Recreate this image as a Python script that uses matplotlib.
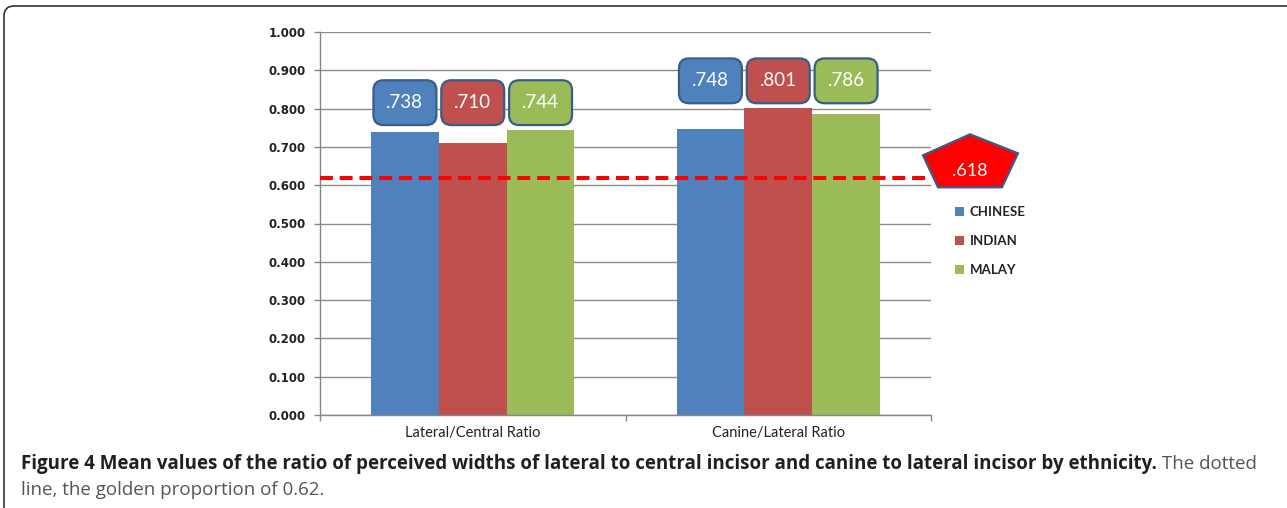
import matplotlib
matplotlib.use("Agg")
import matplotlib.pyplot as plt
from matplotlib.patches import FancyBboxPatch, Polygon
from matplotlib.transforms import IdentityTransform
import numpy as np

categories = ["Lateral/Central Ratio", "Canine/Lateral Ratio"]
groups = ["CHINESE", "INDIAN", "MALAY"]
values = {
    "CHINESE": [0.738, 0.748],
    "INDIAN": [0.710, 0.801],
    "MALAY": [0.744, 0.786],
}
golden = 0.618
colors = {"CHINESE": "#4F81BD", "INDIAN": "#C0504D", "MALAY": "#9BBB59"}
edge_blue = "#385D8A"
caption_bold = ("Figure 4 Mean values of the ratio of perceived widths of lateral "
                "to central incisor and canine to lateral incisor by ethnicity.")
caption_rest = " The dotted"
caption_line2 = "line, the golden proportion of 0.62."

plt.rcParams["font.family"] = ["Lato", "DejaVu Sans"]

W, H = 1287, 508
fig = plt.figure(figsize=(W / 100, H / 100), dpi=100)
ax = fig.add_axes([320 / W, 1 - 415 / H, 611 / W, 383 / H])

x = np.arange(len(categories))
bw = 0.222
bars = []
for i, g in enumerate(groups):
    b = ax.bar(x + (i - 1) * bw, values[g], bw, color=colors[g], label=g, zorder=2)
    bars.append(b)

ax.set_xlim(-0.5, len(categories) - 0.5)
ax.set_ylim(0, 1.0)
yt = np.arange(0, 1.01, 0.1)
ax.set_yticks(yt)
ax.set_yticklabels([f"{v:.3f}" for v in yt], family=["DejaVu Sans"],
                   fontweight="bold")
ax.set_xticks(x)
ax.set_xticklabels(categories)
ax.set_xticks(np.arange(-0.5, len(categories)), minor=True)
ax.tick_params(axis="x", which="major", length=0, pad=8, labelsize=10.5, labelcolor="#222222")
ax.tick_params(axis="x", which="minor", length=4, color="#868686", width=1)
ax.tick_params(axis="y", length=4, color="#868686", width=1, pad=6, labelsize=8.5, labelcolor="#222222")

ax.grid(axis="y", color="#8C8C8C", lw=1.0, zorder=0)
ax.set_axisbelow(True)
for s in ["top", "right"]:
    ax.spines[s].set_visible(False)
for s in ["left", "bottom"]:
    ax.spines[s].set_color("#868686")
    ax.spines[s].set_linewidth(1.0)

# golden proportion reference line
ax.axhline(golden, color="#FF0000", lw=2.9, linestyle=(0, (3.2, 1.7)), zorder=3)

# value callouts above each group
box_w, box_h = 0.206, 0.117
for j in range(len(categories)):
    top = max(values[g][j] for g in groups)
    y0 = top + 0.013
    for i, g in enumerate(groups):
        cx = x[j] + (i - 1) * bw
        p = FancyBboxPatch((cx - box_w / 2, y0), box_w, box_h,
                           boxstyle="round,pad=0,rounding_size=0.033",
                           mutation_aspect=0.79, fc=colors[g], ec=edge_blue,
                           lw=1.6, zorder=4, clip_on=False)
        ax.add_patch(p)
        ax.text(cx, y0 + box_h / 2, f"{values[g][j]:.3f}".lstrip("0"),
                ha="center", va="center", color="white", fontsize=13.5, zorder=5)

# pentagon label for the golden proportion
ly = ax.transData.transform((0, golden))[1]
ax_x1 = ax.transAxes.transform((1, 0))[0]
cx, cy = ax_x1 + 39, ly + 15
pent = [(cx, cy + 29), (cx + 48, cy + 10), (cx + 32, cy - 24),
        (cx - 32, cy - 24), (cx - 47, cy + 8)]
fig.add_artist(Polygon(pent, closed=True, fc="#FF0000", ec=edge_blue, lw=1.6,
                       transform=IdentityTransform(), zorder=6))
fig.text(cx / W, (cy - 8) / H, f"{golden:.3f}".lstrip("0"), ha="center", va="center",
         color="white", fontsize=13, zorder=7)

leg = ax.legend(handles=bars, labels=groups, loc="upper left",
                bbox_to_anchor=(955 / W, 1 - 206 / H), bbox_transform=fig.transFigure,
                frameon=False, fontsize=9.5, handlelength=0.7, handleheight=0.7,
                handletextpad=0.4, labelspacing=1.3, borderpad=0, borderaxespad=0)
for t in leg.get_texts():
    t.set_fontweight("bold")
    t.set_color("#222222")

# outer frame
fig.add_artist(FancyBboxPatch((4, -40), 1310, H - 6 + 40,
                              boxstyle="round,pad=0,rounding_size=10",
                              fc="none", ec="#333333", lw=1.2,
                              transform=IdentityTransform(), zorder=10))

# caption
cap_font = ["Open Sans", "DejaVu Sans"]
t1 = fig.text(21 / W, 39 / H, caption_bold, fontsize=12, fontweight="bold",
              family=cap_font, color="#231F20", va="baseline")
fig.canvas.draw()
r = fig.canvas.get_renderer()
w = t1.get_window_extent(r).width
fs = 12 * 1136 / w
t1.set_fontsize(fs)
fig.canvas.draw()
bb = t1.get_window_extent(r)
fig.text(bb.x1 / W, 39 / H, caption_rest, fontsize=fs, family=cap_font,
         color="#555555", va="baseline")
fig.text(21 / W, 13 / H, caption_line2, fontsize=fs, family=cap_font,
         color="#555555", va="baseline")

fig.savefig("out.png", dpi=100)
